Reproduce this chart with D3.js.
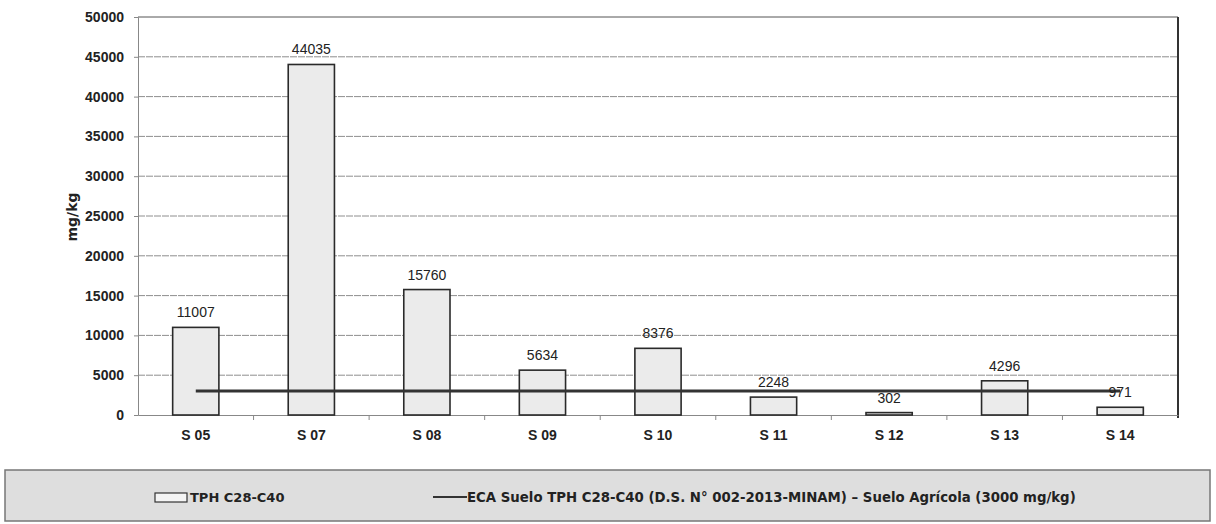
<!DOCTYPE html>
<html>
<head>
<meta charset="utf-8">
<script src="https://cdn.jsdelivr.net/npm/d3@7"></script>
<style>
  body { margin: 0; background: #fff; }
  text { font-family: 'Liberation Sans', Arial, sans-serif; fill: #222; }
</style>
</head>
<body>
<div id="root"></div>
<script>
const width = 1216;
const height = 524;

// Data

const stations = ['S 05', 'S 07', 'S 08', 'S 09', 'S 10', 'S 11', 'S 12', 'S 13', 'S 14'];
const tphValues = [11007, 44035, 15760, 5634, 8376, 2248, 302, 4296, 971];
const ecaLimit = [3000, 3000, 3000, 3000, 3000, 3000, 3000, 3000, 3000];
const yTicks = [0, 5000, 10000, 15000, 20000, 25000, 30000, 35000, 40000, 45000, 50000];

const barLegend = 'TPH C28-C40';
const lineLegend = 'ECA Suelo TPH C28-C40 (D.S. N° 002-2013-MINAM) – Suelo Agrícola (3000 mg/kg)';

// Plot area

const plot = { left: 138, right: 1178, top: 17, bottom: 415 };

const svg = d3
  .select('#root')
  .append('svg')
  .attr('width', width)
  .attr('height', height);

const x = d3.scaleBand().domain(stations).range([plot.left, plot.right]).padding(0);
const y = d3.scaleLinear().domain([0, 50000]).range([plot.bottom, plot.top]);

const barWidth = x.bandwidth() * 0.4;

// Gridlines

svg
  .append('g')
  .selectAll('line')
  .data(yTicks.slice(1, -1))
  .join('line')
  .attr('x1', plot.left)
  .attr('x2', plot.right)
  .attr('y1', (d) => y(d))
  .attr('y2', (d) => y(d))
  .attr('stroke', '#8e8e8e')
  .attr('stroke-width', 1)
  .attr('stroke-dasharray', '7,1');

// Plot border

svg
  .append('line')
  .attr('x1', plot.left)
  .attr('x2', plot.right)
  .attr('y1', plot.top)
  .attr('y2', plot.top)
  .attr('stroke', '#555');

svg
  .append('line')
  .attr('x1', plot.right)
  .attr('x2', plot.right)
  .attr('y1', plot.top)
  .attr('y2', plot.bottom + 3)
  .attr('stroke', '#333')
  .attr('stroke-width', 2);

// Y axis

const yAxis = svg
  .append('g')
  .attr('transform', `translate(${plot.left},0)`)
  .call(d3.axisLeft(y).tickValues(yTicks).tickSize(4).tickPadding(10).tickFormat(d3.format('d')));

yAxis.select('.domain').attr('stroke', '#888');
yAxis.selectAll('.tick line').attr('stroke', '#888');
yAxis
  .selectAll('.tick text')
  .style('font-size', '14px')
  .style('font-weight', 'bold')
  .attr('fill', '#222');

// X axis

const xAxis = svg
  .append('g')
  .attr('transform', `translate(0,${plot.bottom})`)
  .call(d3.axisBottom(x).tickSize(0).tickPadding(15));

xAxis.select('.domain').attr('stroke', '#888');
xAxis
  .selectAll('.tick text')
  .style('font-size', '14px')
  .style('font-weight', 'bold')
  .attr('fill', '#222');

// Tick marks at category boundaries

svg
  .append('g')
  .selectAll('line')
  .data(stations.slice(1))
  .join('line')
  .attr('x1', (d) => x(d))
  .attr('x2', (d) => x(d))
  .attr('y1', plot.bottom)
  .attr('y2', plot.bottom + 5)
  .attr('stroke', '#888');

// Y axis title

svg
  .append('text')
  .attr('transform', `translate(77,217) rotate(-90)`)
  .attr('text-anchor', 'middle')
  .style('font-family', "'DejaVu Sans', sans-serif")
  .style('font-size', '14px')
  .style('font-weight', 'bold')
  .text('mg/kg');

// Bars

const cx = (d) => x(d) + x.bandwidth() / 2;

svg
  .append('g')
  .selectAll('rect')
  .data(stations)
  .join('rect')
  .attr('x', (d) => cx(d) - barWidth / 2)
  .attr('y', (d, i) => y(tphValues[i]))
  .attr('width', barWidth)
  .attr('height', (d, i) => y(0) - y(tphValues[i]))
  .attr('fill', '#ebebeb')
  .attr('stroke', '#2a2a2a')
  .attr('stroke-width', 1.6);

// ECA line

const line = d3
  .line()
  .x((d) => cx(d))
  .y((d, i) => y(ecaLimit[i]));

svg
  .append('path')
  .datum(stations)
  .attr('d', line)
  .attr('fill', 'none')
  .attr('stroke', '#333')
  .attr('stroke-width', 3);

// Data labels

svg
  .append('g')
  .selectAll('text')
  .data(stations)
  .join('text')
  .attr('x', (d) => cx(d))
  .attr('y', (d, i) => y(tphValues[i]) - 10)
  .attr('text-anchor', 'middle')
  .style('font-size', '14px')
  .text((d, i) => tphValues[i]);

// Legend

const legend = svg.append('g');

legend
  .append('rect')
  .attr('x', 5)
  .attr('y', 470)
  .attr('width', 1205)
  .attr('height', 51)
  .attr('fill', '#dedede')
  .attr('stroke', '#777')
  .attr('stroke-width', 1.5);

legend
  .append('rect')
  .attr('x', 155)
  .attr('y', 493)
  .attr('width', 32)
  .attr('height', 9)
  .attr('fill', '#f4f4f4')
  .attr('stroke', '#333')
  .attr('stroke-width', 1.2);

legend
  .append('text')
  .attr('x', 190)
  .attr('y', 502)
  .style('font-family', "'DejaVu Sans', sans-serif")
  .style('font-size', '13px')
  .style('font-weight', 'bold')
  .text(barLegend);

legend
  .append('line')
  .attr('x1', 433)
  .attr('x2', 467)
  .attr('y1', 497)
  .attr('y2', 497)
  .attr('stroke', '#333')
  .attr('stroke-width', 2);

legend
  .append('text')
  .attr('x', 467)
  .attr('y', 502)
  .style('font-family', "'DejaVu Sans', sans-serif")
  .style('font-size', '13.3px')
  .style('font-weight', 'bold')
  .text(lineLegend);
</script>
</body>
</html>
